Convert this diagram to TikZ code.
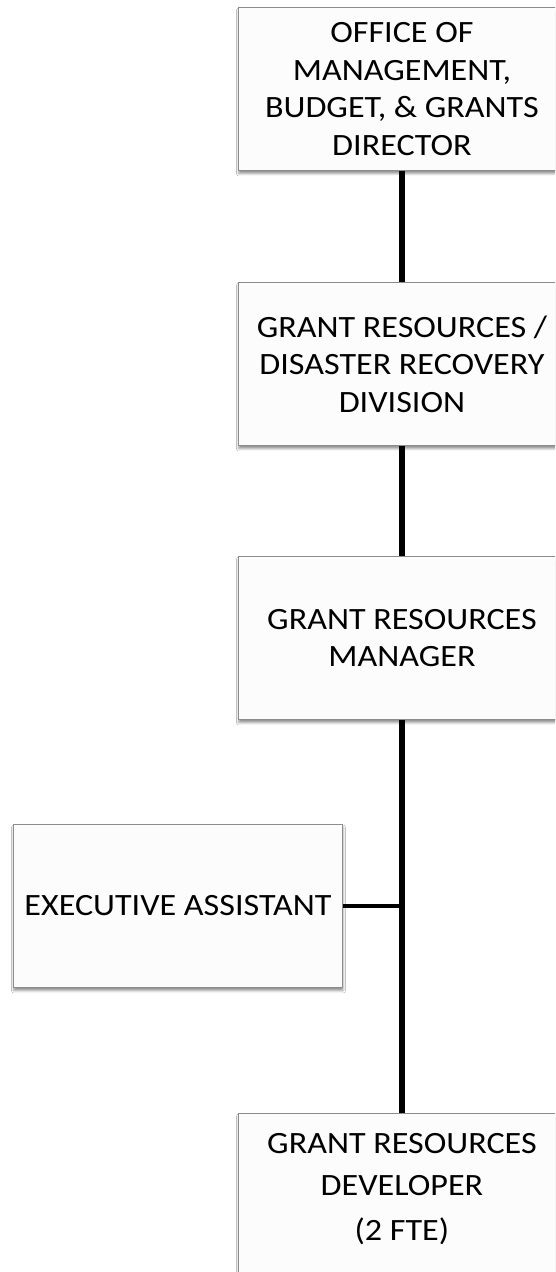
\documentclass[tikz,border=0pt]{standalone}
\usepackage{fontspec}
\setmainfont{Carlito}[FakeStretch=1.1]
\usetikzlibrary{shadows.blur}
\begin{document}
\begin{tikzpicture}[x=1pt,y=-1pt,
  boxtext/.style={align=center, inner sep=0pt,
    font=\fontsize{31}{37.5}\selectfont},
  orgbox/.style={boxtext, draw=black!45, line width=0.9pt, fill=black!1,
    rectangle, minimum width=327pt, minimum height=163pt,
    anchor=north west,
    blur shadow={shadow xshift=0.5pt, shadow yshift=-3pt,
      shadow blur radius=2.5pt, shadow opacity=45}},
  conn/.style={draw=black, line width=5.5pt}]
  \path[use as bounding box, clip] (0,0) rectangle (555,1272);
  \fill[white] (0,0) rectangle (555,1272);

  % chain of command
  \node[orgbox] (dir) at (238,7)
    {\raisebox{-2pt}{\parbox{320pt}{\centering OFFICE OF\\MANAGEMENT,\\BUDGET, \& GRANTS\\DIRECTOR}}};
  \node[orgbox] (div) at (238,282)
    {GRANT RESOURCES /\\DISASTER RECOVERY\\DIVISION};
  \node[orgbox] (mgr) at (238,556)
    {GRANT RESOURCES\\MANAGER};
  \node[orgbox, minimum width=329pt] (ea) at (13,824)
    {EXECUTIVE ASSISTANT};
  \node[orgbox] (dev) at (238,1113) {};
  \node[boxtext, anchor=north, font=\fontsize{31}{42}\selectfont]
    (devtext) at ([yshift=-20pt]dev.north)
    {GRANT RESOURCES\\DEVELOPER\\[3pt](2 FTE)};

  % reporting lines
  \draw[conn] (dir.south) -- (div.north);
  \draw[conn] (div.south) -- (mgr.north);
  \draw[conn] (mgr.south) -- (dev.north);
  \draw[conn, line width=4.5pt] (ea.east) -- (ea.east -| mgr.south);
\end{tikzpicture}
\end{document}
